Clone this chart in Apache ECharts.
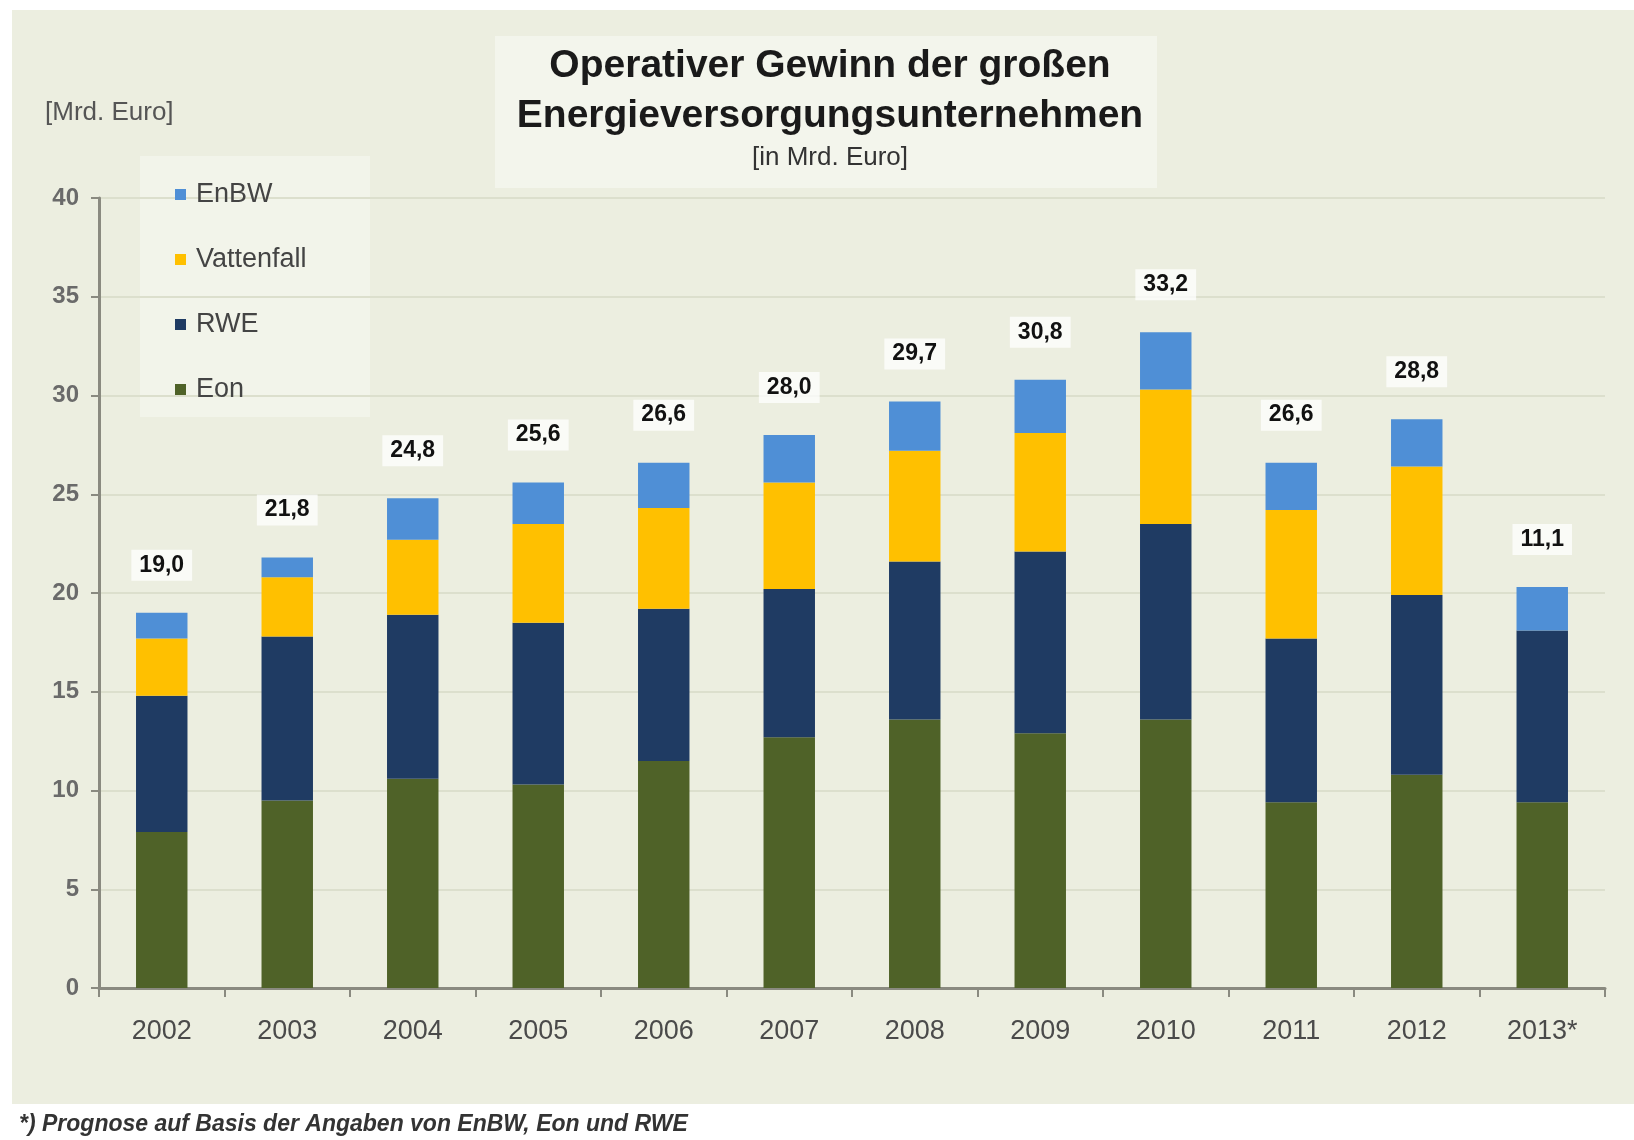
<!DOCTYPE html>
<html>
<head>
<meta charset="utf-8">
<script src="https://cdn.jsdelivr.net/npm/echarts@6/dist/echarts.min.js"></script>
<style>
html,body{margin:0;padding:0;background:#ffffff;}
#chart{width:1634px;height:1140px;}
</style>
</head>
<body>
<div id="chart"></div>
<script>
const years = ['2002','2003','2004','2005','2006','2007','2008','2009','2010','2011','2012','2013*'];
const eon = [7.9, 9.5, 10.6, 10.3, 11.5, 12.7, 13.6, 12.9, 13.6, 9.4, 10.8, 9.4];
const rwe = [6.9, 8.3, 8.3, 8.2, 7.7, 7.5, 8.0, 9.2, 9.9, 8.3, 9.1, 8.7];
const vattenfall = [2.9, 3.0, 3.8, 5.0, 5.1, 5.4, 5.6, 6.0, 6.8, 6.5, 6.5, 0];
const enbw = [1.3, 1.0, 2.1, 2.1, 2.3, 2.4, 2.5, 2.7, 2.9, 2.4, 2.4, 2.2];
const totalLabels = ['19,0','21,8','24,8','25,6','26,6','28,0','29,7','30,8','33,2','26,6','28,8','11,1'];
const yTicks = [0, 5, 10, 15, 20, 25, 30, 35, 40];

const chart = echarts.init(document.getElementById('chart'));
const font = 'Liberation Sans, Arial, sans-serif';

function barSeries(name, data, color, extra) {
  return Object.assign({
    name: name,
    type: 'bar',
    stack: 'total',
    data: data,
    barWidth: '41%',
    itemStyle: { color: color },
    emphasis: { disabled: true }
  }, extra || {});
}

chart.setOption({
  animation: false,
  backgroundColor: '#ffffff',
  graphic: [
    { type: 'rect', z: -10, shape: { x: 12, y: 10, width: 1622, height: 1094 }, style: { fill: '#eceee0' } },
    { type: 'rect', z: -9, shape: { x: 495, y: 36, width: 662, height: 152 }, style: { fill: '#f3f5ec' } },
    { type: 'rect', z: -9, shape: { x: 140, y: 156, width: 230, height: 261 }, style: { fill: '#f2f4ea' } }
  ],
  title: [
    {
      text: 'Operativer Gewinn der großen\nEnergieversorgungsunternehmen',
      subtext: '[in Mrd. Euro]',
      left: 825, top: 36, textAlign: 'center',
      itemGap: 2,
      textStyle: { fontFamily: font, fontSize: 39, fontWeight: 'bold', color: '#1a1a1a', lineHeight: 50 },
      subtextStyle: { fontFamily: font, fontSize: 26, color: '#333333', lineHeight: 30 }
    },
    {
      text: '[Mrd. Euro]',
      left: 40, top: 95,
      textStyle: { fontFamily: font, fontSize: 26, fontWeight: 'normal', color: '#555555' }
    },
    {
      text: '*) Prognose auf Basis der Angaben von EnBW, Eon und RWE',
      left: 19, top: 1113, padding: 0,
      textStyle: { fontFamily: font, fontSize: 23, fontStyle: 'italic', fontWeight: 'bold', color: '#333333' }
    }
  ],
  legend: {
    orient: 'vertical',
    left: 170, top: 176,
    data: ['EnBW', 'Vattenfall', 'RWE', 'Eon'],
    icon: 'rect',
    itemWidth: 11, itemHeight: 11,
    itemGap: 38,
    textStyle: { fontFamily: font, fontSize: 27, color: '#444444', padding: [0,0,0,5] }
  },
  grid: { left: 99, right: 29, top: 198, bottom: 152, containLabel: false },
  xAxis: {
    type: 'category',
    data: years,
    axisLine: { lineStyle: { color: '#8a8a80', width: 3 } },
    axisTick: { show: true, length: 9, lineStyle: { color: '#8a8a80', width: 2 } },
    axisLabel: { fontFamily: font, fontSize: 27, color: '#4a4a4a', margin: 30 }
  },
  yAxis: {
    type: 'value',
    min: yTicks[0], max: yTicks[yTicks.length - 1], interval: 5,
    axisLine: { show: true, lineStyle: { color: '#8a8a80', width: 3 } },
    axisTick: { show: true, length: 8, lineStyle: { color: '#8a8a80', width: 2 } },
    axisLabel: { fontFamily: font, fontSize: 24, fontWeight: 'bold', color: '#6a6a6a', margin: 20 },
    splitLine: { lineStyle: { color: '#dcdfcd', width: 2 } }
  },
  series: [
    barSeries('Eon', eon, '#4f6228'),
    barSeries('RWE', rwe, '#1f3b63'),
    barSeries('Vattenfall', vattenfall, '#ffc000'),
    barSeries('EnBW', enbw, '#4f8fd6', {
      label: {
        show: true,
        position: 'top',
        distance: 32,
        formatter: function (p) { return totalLabels[p.dataIndex]; },
        fontFamily: font, fontSize: 23, fontWeight: 'bold', color: '#111111',
        backgroundColor: 'rgba(255,255,255,0.75)',
        padding: [4, 8, 4, 8]
      }
    })
  ]
});
</script>
</body>
</html>
